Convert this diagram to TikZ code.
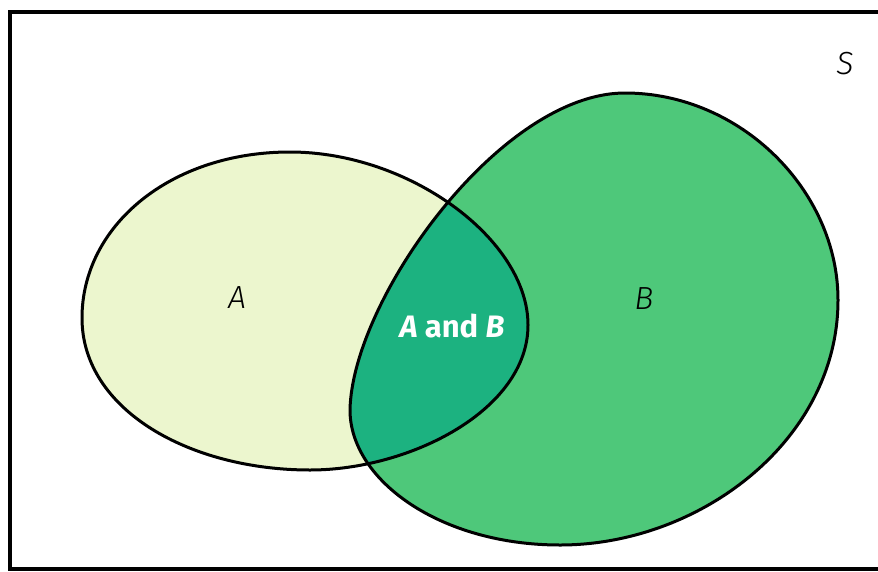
\documentclass[tikz,border=0pt]{standalone}
\usepackage{fontspec}
\setsansfont{Fira Sans}
\newfontfamily\lightsans[ItalicFont={Fira Sans Light Italic}]{Fira Sans Light}
\definecolor{Afill}{RGB}{236,246,206}
\definecolor{Bfill}{RGB}{78,200,122}
\definecolor{ABfill}{RGB}{28,178,128}
\begin{document}
\begin{tikzpicture}[x=1pt,y=-1pt,
  outline/.style={line width=3pt,black},
  lbl/.style={font=\lightsans\itshape\fontsize{32}{36}\selectfont, text=black},
]
\useasboundingbox (0,0) rectangle (878,571);
\fill[white] (0,0) rectangle (878,571);
\def\setA{(82,318) .. controls (82,226) and (170,152) .. (290,152) .. controls (410,152) and (528,240) .. (528,325) .. controls (528,410) and (410,470) .. (310,470) .. controls (190,470) and (82,410) .. (82,318) -- cycle}
\def\setB{(350,410) .. controls (352,300) and (500,93) .. (625,93) .. controls (740,93) and (838,190) .. (838,300) .. controls (838,440) and (700,545) .. (560,545) .. controls (440,545) and (350,480) .. (350,410) -- cycle}
\fill[Afill] \setA;
\fill[Bfill] \setB;
\begin{scope}
  \clip \setA;
  \fill[ABfill] \setB;
\end{scope}
\draw[outline] \setA;
\draw[outline] \setB;
\draw[line width=3.5pt] (880,12) -- (10,12) -- (10,569) -- (880,569);
\node[lbl] (la) at (237,298) {A};
\node[lbl] (lb) at (644,299) {B};
\node[lbl] (ls) at (845,64) {S};
\node[font=\sffamily\bfseries\fontsize{31}{36}\selectfont, text=white] (lab) at (452,326) {\textit{A} and \textit{B}};
\end{tikzpicture}
\end{document}
